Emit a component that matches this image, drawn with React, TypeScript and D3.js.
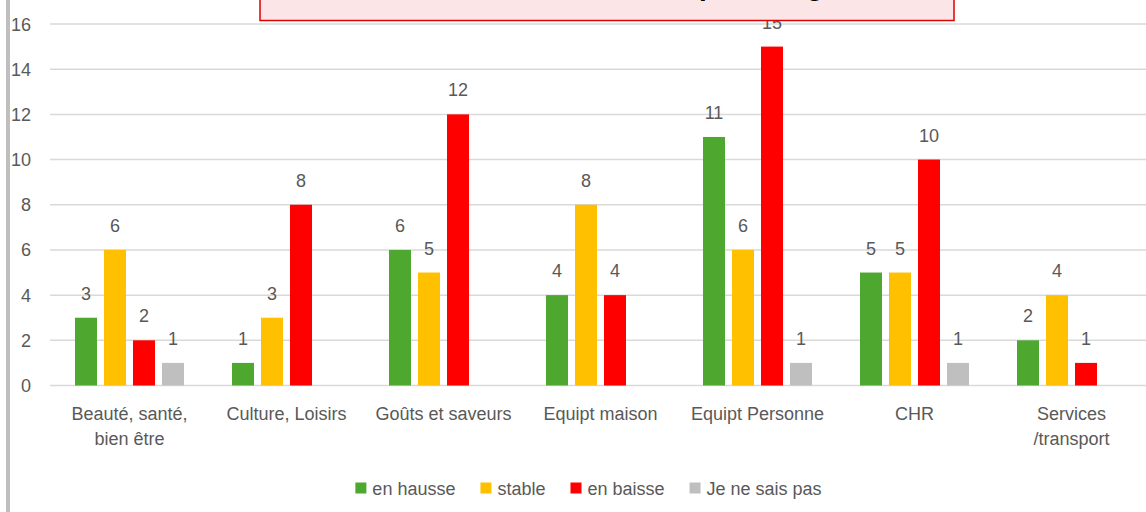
import React, { useEffect, useRef } from "react";
import * as d3 from "d3";

const categories = [
  "Beauté, santé, bien être",
  "Culture, Loisirs",
  "Goûts et saveurs",
  "Equipt maison",
  "Equipt Personne",
  "CHR",
  "Services /transport",
];
const categoryLines = [
  ["Beauté, santé,", "bien être"],
  ["Culture, Loisirs"],
  ["Goûts et saveurs"],
  ["Equipt maison"],
  ["Equipt Personne"],
  ["CHR"],
  ["Services", "/transport"],
];
const seriesNames = ["en hausse", "stable", "en baisse", "Je ne sais pas"];
const enHausse = [3, 1, 6, 4, 11, 5, 2];
const stable = [6, 3, 5, 8, 6, 5, 4];
const enBaisse = [2, 8, 12, 4, 15, 10, 1];
const jeNeSaisPas = [1, null, null, null, 1, 1, null];
const yTicks = [0, 2, 4, 6, 8, 10, 12, 14, 16];
const titleBefore = "Evolution du chiffre d'affaires";
const titleAfter = "par catégorie";

const colors = ["#4ea72e", "#ffc000", "#ff0000", "#bfbfbf"];
const W = 1146;
const H = 512;
const FONT = "'Liberation Sans', Arial, sans-serif";
const TXT = "#595959";

export default function App() {
  const ref = useRef<SVGSVGElement | null>(null);

  useEffect(() => {
    const svg = d3.select(ref.current);
    svg.selectAll("*").remove();
    const series = [enHausse, stable, enBaisse, jeNeSaisPas];

    const x = d3.scaleBand<string>().domain(categories).range([51, 1150]).paddingInner(0).paddingOuter(0);
    const xs = d3
      .scaleBand<string>()
      .domain(seriesNames)
      .range([24, 24 + 4 * 29 - 7])
      .paddingInner(7 / 29);
    const y = d3.scaleLinear().domain([0, 16]).range([385.5, 24]);

    // left frame bar
    svg.append("rect").attr("x", 6).attr("y", 0).attr("width", 4).attr("height", H).attr("fill", "#bfbfbf");

    // gridlines
    svg
      .append("g")
      .selectAll("line")
      .data(yTicks)
      .join("line")
      .attr("x1", 50)
      .attr("x2", W)
      .attr("y1", (d) => y(d))
      .attr("y2", (d) => y(d))
      .attr("stroke", "#d9d9d9")
      .attr("stroke-width", 1.5);

    // y tick labels
    svg
      .append("g")
      .selectAll("text")
      .data(yTicks)
      .join("text")
      .attr("x", 31)
      .attr("y", (d) => y(d) + 6.5)
      .attr("text-anchor", "end")
      .attr("font-family", FONT)
      .attr("font-size", 18)
      .attr("fill", TXT)
      .text((d) => d);

    // bars
    series.forEach((vals, si) => {
      const g = svg.append("g");
      const items = categories
        .map((c, i) => ({ c, v: vals[i] }))
        .filter((d) => d.v !== null && d.v !== undefined) as { c: string; v: number }[];
      g.selectAll("rect")
        .data(items)
        .join("rect")
        .attr("x", (d) => (x(d.c) as number) + (xs(seriesNames[si]) as number))
        .attr("width", xs.bandwidth())
        .attr("y", (d) => y(d.v))
        .attr("height", (d) => y(0) - y(d.v))
        .attr("fill", colors[si]);
      g.selectAll("text")
        .data(items)
        .join("text")
        .attr("x", (d) => (x(d.c) as number) + (xs(seriesNames[si]) as number) + xs.bandwidth() / 2)
        .attr("y", (d) => y(d.v) - 18)
        .attr("text-anchor", "middle")
        .attr("font-family", FONT)
        .attr("font-size", 18)
        .attr("fill", TXT)
        .text((d) => d.v);
    });

    // category labels
    const cg = svg.append("g");
    categories.forEach((c, i) => {
      const t = cg
        .append("text")
        .attr("text-anchor", "middle")
        .attr("font-family", FONT)
        .attr("font-size", 18)
        .attr("fill", TXT);
      categoryLines[i].forEach((line, li) => {
        t.append("tspan")
          .attr("x", (x(c) as number) + x.bandwidth() / 2)
          .attr("y", 419.5 + li * 25)
          .text(line);
      });
    });

    // legend
    const lg = svg.append("g");
    const items: { g: any; w: number }[] = [];
    seriesNames.forEach((n, i) => {
      const ig = lg.append("g");
      ig.append("rect").attr("x", 0).attr("y", -5.5).attr("width", 11).attr("height", 11).attr("fill", colors[i]);
      const t = ig
        .append("text")
        .attr("x", 17)
        .attr("y", 6.5)
        .attr("font-family", FONT)
        .attr("font-size", 18)
        .attr("fill", TXT)
        .text(n);
      const tw = (t.node() as SVGTextElement).getComputedTextLength();
      items.push({ g: ig, w: 17 + tw });
    });
    const gap = 25;
    const total = d3.sum(items, (d) => d.w) + gap * (items.length - 1);
    let cx = 588.5 - total / 2;
    items.forEach((it) => {
      it.g.attr("transform", `translate(${cx},488)`);
      cx += it.w + gap;
    });

    // title box (drawn last, over the labels); the title sits mostly above the visible area
    svg
      .append("rect")
      .attr("x", 260)
      .attr("y", -10)
      .attr("width", 694)
      .attr("height", 30.5)
      .attr("fill", "#fbe5e6")
      .attr("stroke", "#e00000")
      .attr("stroke-width", 1.5);
    svg
      .append("text")
      .attr("x", 692)
      .attr("y", -5)
      .attr("text-anchor", "end")
      .attr("font-family", FONT)
      .attr("font-weight", "bold")
      .attr("font-size", 28)
      .attr("fill", "#000")
      .text(titleBefore);
    svg
      .append("text")
      .attr("x", 699)
      .attr("y", -5)
      .attr("text-anchor", "start")
      .attr("font-family", FONT)
      .attr("font-weight", "bold")
      .attr("font-size", 28)
      .attr("fill", "#000")
      .text(titleAfter);
  }, []);

  return (
    <svg
      ref={ref}
      width={W}
      height={H}
      style={{ position: "absolute", left: 0, top: 0, background: "#fff" }}
    />
  );
}
